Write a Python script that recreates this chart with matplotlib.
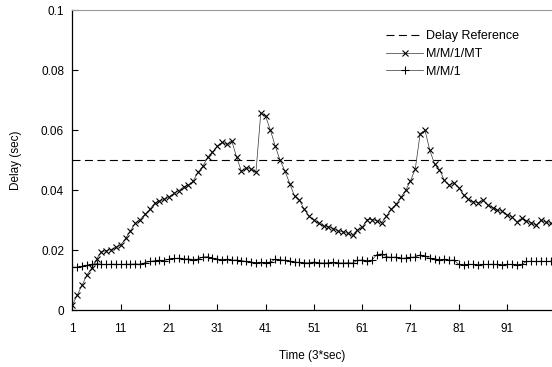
import matplotlib
matplotlib.use("Agg")
import matplotlib.pyplot as plt
import numpy as np

# datos
delay_ref = 0.05

mm1mt = [0.0017, 0.005, 0.0083, 0.0117, 0.014, 0.017, 0.0194, 0.0198, 0.0202, 0.0209,
         0.0217, 0.0239, 0.0264, 0.0289, 0.0302, 0.0319, 0.0336, 0.0356, 0.0364, 0.0369,
         0.0378, 0.0389, 0.0398, 0.0411, 0.0417, 0.043, 0.046, 0.048, 0.051, 0.0528,
         0.0547, 0.056, 0.0553, 0.0564, 0.051, 0.0463, 0.0474, 0.047, 0.046, 0.0658,
         0.0647, 0.060, 0.0547, 0.050, 0.0464, 0.0422, 0.038, 0.0367, 0.0336, 0.0313,
         0.030, 0.0289, 0.028, 0.0278, 0.0272, 0.0264, 0.0261, 0.0256, 0.025, 0.0267,
         0.0276, 0.0302, 0.0302, 0.0298, 0.0291, 0.0313, 0.0337, 0.0353, 0.0376, 0.040,
         0.0431, 0.0472, 0.0589, 0.060, 0.0533, 0.0487, 0.0469, 0.0433, 0.0417, 0.0424,
         0.0409, 0.0383, 0.0369, 0.0361, 0.0358, 0.0367, 0.035, 0.0342, 0.0333, 0.033,
         0.0317, 0.0311, 0.0294, 0.0306, 0.0298, 0.0291, 0.0283, 0.030, 0.0294, 0.0289]

mm1 = [0.0143, 0.0143, 0.0146, 0.0149, 0.0152,
       0.0155, 0.0153, 0.0152, 0.0153, 0.0153, 0.0152, 0.0153, 0.0153, 0.0154, 0.0153,
       0.0158, 0.0162, 0.0165, 0.0166, 0.0165,
       0.0170, 0.0172, 0.0173, 0.0170, 0.0171, 0.0168, 0.0170,
       0.0177, 0.0178,
       0.0172, 0.0170, 0.0168, 0.0169, 0.0166, 0.0167, 0.0165,
       0.0162, 0.0160, 0.0158, 0.0159, 0.0158, 0.0160,
       0.0169, 0.0168, 0.0166,
       0.0162, 0.0160, 0.0159, 0.0158, 0.0158, 0.0160, 0.0158, 0.0157, 0.0158, 0.0159,
       0.0158, 0.0157, 0.0158, 0.0157,
       0.0166, 0.0167, 0.0165, 0.0166,
       0.0185, 0.0187, 0.0178,
       0.0176, 0.0177, 0.0172, 0.0174, 0.0176, 0.0177,
       0.0184, 0.0180,
       0.0172, 0.0171, 0.0168, 0.0169, 0.0166, 0.0167,
       0.0152, 0.0151, 0.0152, 0.0152, 0.0151, 0.0152, 0.0152, 0.0153, 0.0152, 0.0151,
       0.0152, 0.0152, 0.0151, 0.0152,
       0.0162, 0.0163, 0.0162, 0.0163, 0.0162, 0.0163]

x_ticks = [1, 11, 21, 31, 41, 51, 61, 71, 81, 91]
y_ticks = [0, 0.02, 0.04, 0.06, 0.08, 0.1]
y_labels = ["0", "0.02", "0.04", "0.06", "0.08", "0.1"]

t = np.arange(1, len(mm1mt) + 1)

plt.rcParams["font.family"] = ["Liberation Sans", "DejaVu Sans"]
fig = plt.figure(figsize=(5.52, 3.67), dpi=100)
ax = fig.add_axes([0.1312, 0.1553, 0.8688, 0.8161])

ax.axhline(delay_ref, color="black", lw=0.8, linestyle=(0, (7.2, 4)),
           label="Delay Reference")
ax.plot(t, mm1mt, color="#333333", lw=0.5, marker="x", ms=4.5, mew=0.8,
        mec="black", label="M/M/1/MT")
ax.plot(t, mm1, color="#333333", lw=0.5, marker="+", ms=5.5, mew=0.8,
        mec="black", label="M/M/1")

ax.set_xlim(1, 100.3)
ax.set_ylim(0, 0.1)
ax.set_xticks(x_ticks)
ax.set_yticks(y_ticks)
ax.set_yticklabels(y_labels)
ax.tick_params(direction="in", length=4, width=0.8, labelsize=8.5)
ax.tick_params(axis="y", pad=6)
ax.tick_params(axis="x", pad=9)

# marco estilo excel
ax.spines["right"].set_visible(False)
ax.spines["top"].set_color("#999999")
ax.spines["left"].set_linewidth(0.9)
ax.spines["bottom"].set_linewidth(0.9)

ax.set_xlabel("Time (3*sec)", fontsize=8.5, labelpad=11)
ax.set_ylabel("Delay (sec)", fontsize=8.5, labelpad=14)

ax.legend(loc="upper left", bbox_to_anchor=(0.643, 0.95), frameon=False,
          fontsize=9, handlelength=3.0, handletextpad=0.2, labelspacing=0.45,
          borderaxespad=0)

fig.savefig("out.png", dpi=100)
